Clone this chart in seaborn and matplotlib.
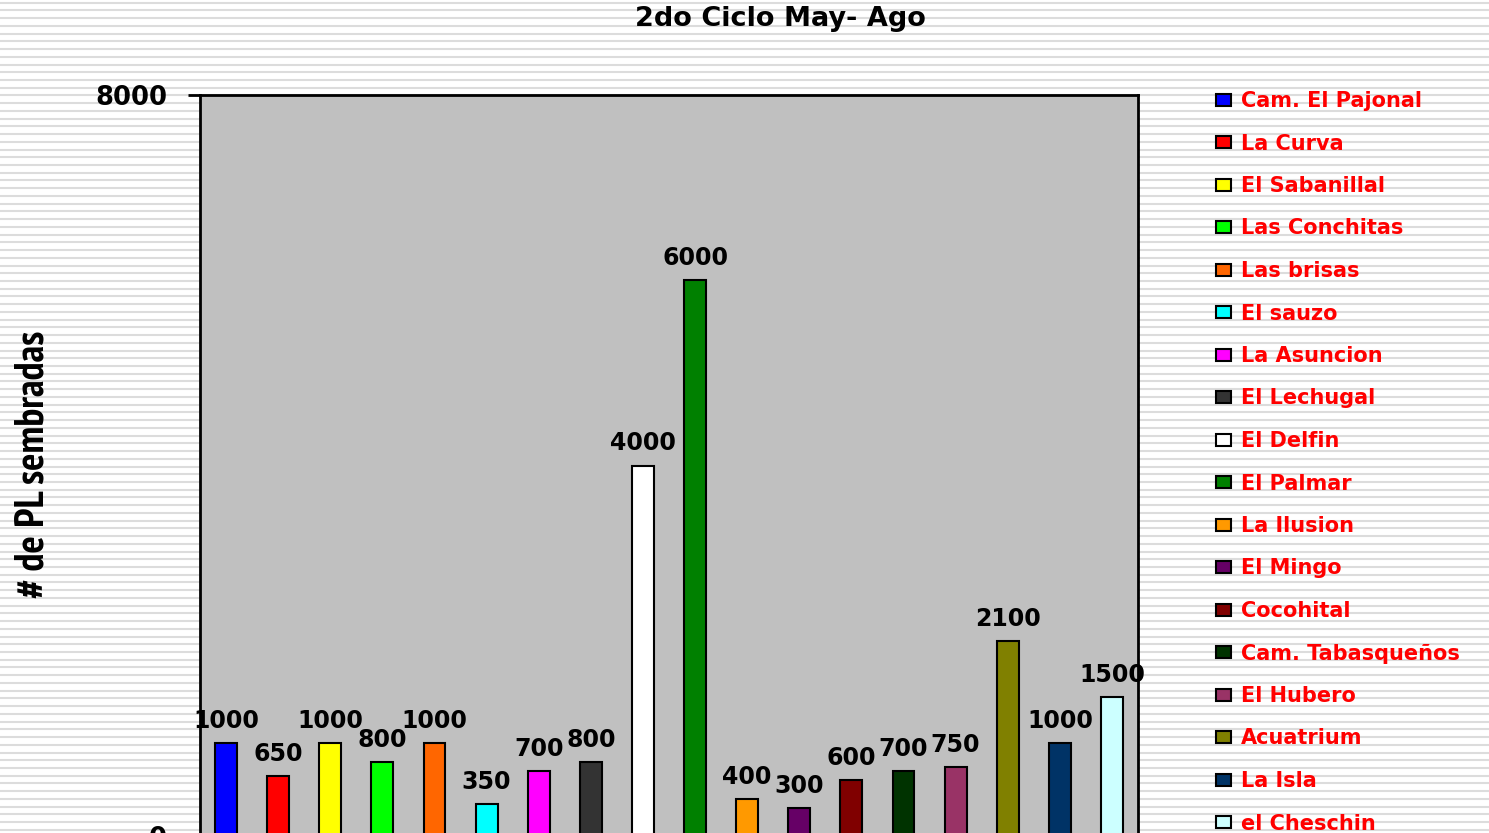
import matplotlib
matplotlib.use("Agg")
import matplotlib.pyplot as plt
import matplotlib.patches as mpatches
from matplotlib.lines import Line2D
from matplotlib import font_manager as fm
import seaborn as sns
import pandas as pd

categories = ["Cam. El Pajonal", "La Curva", "El Sabanillal", "Las Conchitas", "Las brisas",
              "El sauzo", "La Asuncion", "El Lechugal", "El Delfin", "El Palmar",
              "La Ilusion", "El Mingo", "Cocohital", "Cam. Tabasqueños", "El Hubero",
              "Acuatrium", "La Isla", "el Cheschin"]
values = [1000, 650, 1000, 800, 1000, 350, 700, 800, 4000, 6000,
          400, 300, 600, 700, 750, 2100, 1000, 1500]
colors = ["#0000FF", "#FF0000", "#FFFF00", "#00FF00", "#FF6600", "#00FFFF", "#FF00FF",
          "#333333", "#FFFFFF", "#008000", "#FF9900", "#660066", "#800000", "#003300",
          "#993366", "#808000", "#003366", "#CCFFFF"]
y_ticks = [0, 8000]
title = "2do Ciclo May- Ago"
y_label = "# de PL sembradas"

W, H = 1489, 833
fig = plt.figure(figsize=(W / 100, H / 100), dpi=100)
fig.patch.set_facecolor("white")

# striped background
y = 2.7
while y < H:
    fig.add_artist(Line2D([0, 1], [1 - y / H] * 2, transform=fig.transFigure,
                          color="#DCDCDC", lw=1.5, zorder=0))
    y += 7.73

ax = fig.add_axes([200 / W, 1 - 836 / H, 938 / W, (836 - 95) / H])
ax.set_facecolor("#C0C0C0")

df = pd.DataFrame({"cat": categories, "val": values})
sns.barplot(data=df, x="cat", y="val", hue="cat", palette=colors, dodge=False,
            width=0.42, edgecolor="black", linewidth=1.5, ax=ax, legend=False,
            saturation=1)

ax.set_xlim(-0.5, len(categories) - 0.5)
ax.set_ylim(0, 8000)
ax.set_yticks(y_ticks)
ax.set_yticklabels([str(t) for t in y_ticks], fontsize=18.5, fontweight="bold",
                   family="DejaVu Sans")
ax.tick_params(axis="y", length=8.6, width=2, direction="out", pad=15)
ax.set_xticks([])
ax.set_xlabel("")
ax.set_ylabel("")
for s in ax.spines.values():
    s.set_linewidth(2)
    s.set_color("black")

for p, v in zip(ax.patches, values):
    ax.annotate(f"{v}", (p.get_x() + p.get_width() / 2, p.get_height()),
                xytext=(0, 15), textcoords="offset pixels", ha="center",
                va="baseline", fontsize=17, fontweight="bold", family="DejaVu Sans")

fig.text(780 / W, 1 - 19 / H, title, ha="center", va="center", fontsize=19.5,
         fontweight="bold", family="DejaVu Sans")

# condensed bold font for the y label, if available
cond = None
for f in fm.fontManager.ttflist:
    n = f.fname.lower()
    if ("narrow" in n or "condensed" in n) and ("bold" in n) and "oblique" not in n and "italic" not in n:
        cond = f.fname
        if "narrow" in n:
            break
if cond:
    yprop = fm.FontProperties(fname=cond, size=26)
else:
    yprop = fm.FontProperties(family="DejaVu Sans", weight="bold", size=26)
ylab = fig.text(33 / W, 1 - 464 / H, y_label, ha="center", va="center", rotation=90,
                fontproperties=yprop)
r = fig.canvas.get_renderer()
ext = ylab.get_window_extent(r)
yprop.set_size(26 * 268 / ext.height)
ylab.set_fontproperties(yprop)

handles = [mpatches.Patch(facecolor=c, edgecolor="black", linewidth=1.5) for c in colors]
leg = fig.legend(handles, categories, loc="upper left",
                 bbox_to_anchor=(1216 / W, 1 - 91 / H), frameon=False,
                 borderpad=0, borderaxespad=0, handlelength=0.7, handleheight=0.5,
                 handletextpad=0.5, labelspacing=1.08,
                 prop={"family": "DejaVu Sans", "weight": "bold", "size": 15})
for t in leg.get_texts():
    t.set_color("#FF0000")

fig.savefig("out.png", dpi=100)
